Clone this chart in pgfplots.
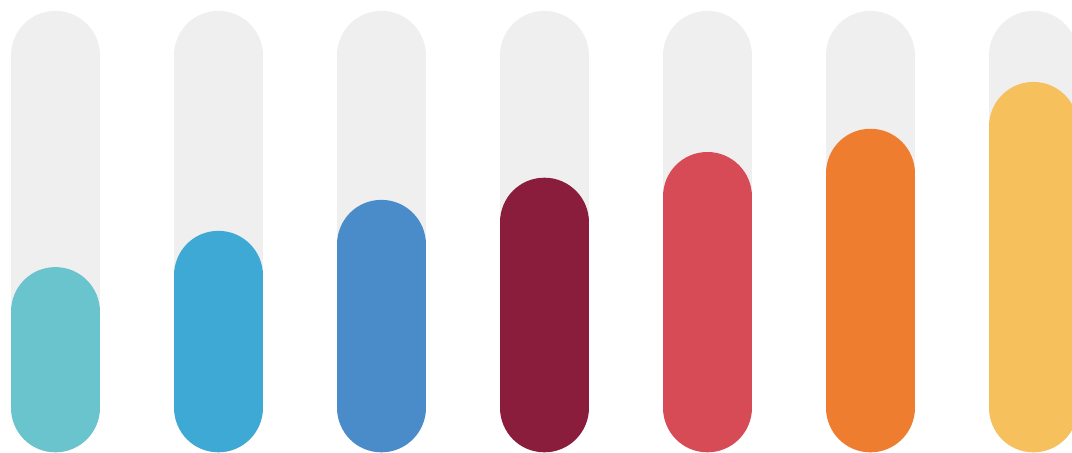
\documentclass[border=0pt]{standalone}
\usepackage{pgfplots}
\pgfplotsset{compat=1.18}

\definecolor{track}{HTML}{EFEFEF}
\definecolor{c1}{HTML}{6AC4CE}
\definecolor{c2}{HTML}{3FA9D6}
\definecolor{c3}{HTML}{4A8BC9}
\definecolor{c4}{HTML}{8A1C3C}
\definecolor{c5}{HTML}{D64B56}
\definecolor{c6}{HTML}{EE7D30}
\definecolor{c7}{HTML}{F6C05C}

\begin{document}
\begin{tikzpicture}
\begin{axis}[
    scale only axis,
    width=1072pt, height=453pt,
    xmin=-0.339, xmax=6.237,
    ymin=-12.9, ymax=115.8,
    hide axis,
    every axis plot/.append style={ycomb, mark=none, line width=89.5pt, line cap=round},
]
% grey tracks (full scale = 100)
\addplot[track] coordinates {(0,100) (1,100) (2,100) (3,100) (4,100) (5,100) (6,100)};
% values
\addplot[c1] coordinates {(0,27.2)};
\addplot[c2] coordinates {(1,37.5)};
\addplot[c3] coordinates {(2,46.3)};
\addplot[c4] coordinates {(3,52.6)};
\addplot[c5] coordinates {(4,59.9)};
\addplot[c6] coordinates {(5,66.5)};
\addplot[c7] coordinates {(6,79.8)};
\path (rel axis cs:0,0) rectangle (rel axis cs:1,1);
\end{axis}
\end{tikzpicture}
\end{document}
